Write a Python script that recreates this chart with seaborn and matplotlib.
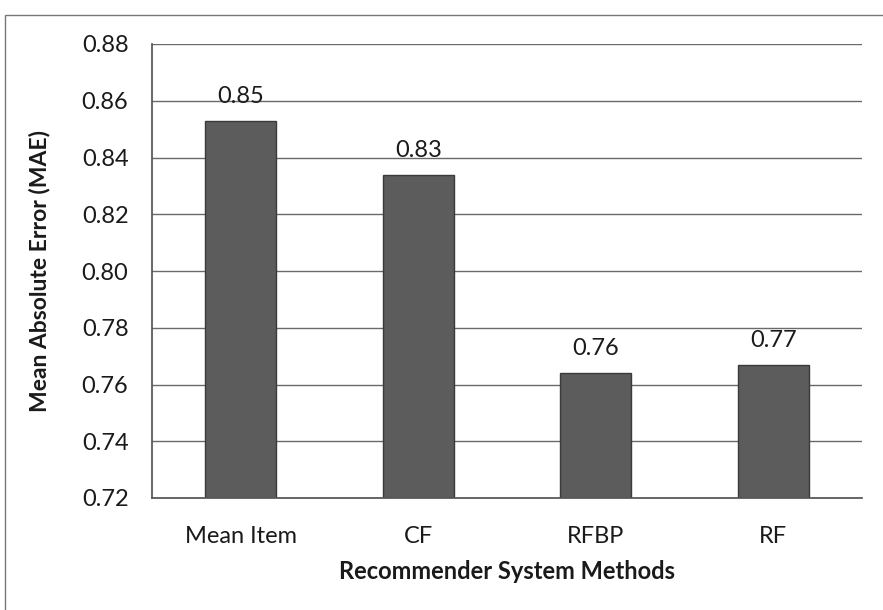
import matplotlib
matplotlib.use("Agg")
import matplotlib.pyplot as plt
import matplotlib.patches as mpatches
import seaborn as sns
import pandas as pd

methods = ["Mean Item", "CF", "RFBP", "RF"]
mae = [0.853, 0.834, 0.764, 0.767]
y_ticks = [0.72, 0.74, 0.76, 0.78, 0.80, 0.82, 0.84, 0.86, 0.88]

sns.set_theme(style="white")
plt.rcParams["font.family"] = ["Lato", "DejaVu Sans"]

df = pd.DataFrame({"method": methods, "mae": mae})

fig = plt.figure(figsize=(8.83, 6.10), dpi=100)
ax = fig.add_axes([152 / 883, 1 - 498 / 610, 710 / 883, (498 - 44) / 610])

sns.barplot(data=df, x="method", y="mae", color="#5c5c5c", width=0.4,
            edgecolor="#3a3a3a", linewidth=1.0, saturation=1, ax=ax)

ax.set_ylim(0.72, 0.88)
ax.set_yticks(y_ticks)
ax.set_yticklabels([f"{t:.2f}" for t in y_ticks])
ax.yaxis.grid(True, color="#6a6a6a", linewidth=1.0)
ax.set_axisbelow(True)
for side in ["top", "right"]:
    ax.spines[side].set_visible(False)
ax.spines["left"].set_color("#555555")
ax.spines["bottom"].set_color("#555555")
ax.tick_params(axis="both", length=0, labelsize=17, colors="#1a1a1a")
ax.tick_params(axis="y", pad=17)
ax.tick_params(axis="x", pad=20)

for container in ax.containers:
    ax.bar_label(container, labels=[f"{v:.2f}" for v in container.datavalues],
                 padding=10, fontsize=17, color="#1a1a1a")

ax.set_xlabel("Recommender System Methods", fontsize=17, fontweight="bold",
              color="#1a1a1a")
ax.set_ylabel("Mean Absolute Error (MAE)", fontsize=16.5, fontweight="bold",
              color="#1a1a1a")
ax.xaxis.set_label_coords(0.5, -0.136)
ax.yaxis.set_label_coords(-0.143, 0.5)

# chart area frame
frame = mpatches.Rectangle((5 / 883, -0.1), 1.2, 1 - 15 / 610 + 0.1,
                           transform=fig.transFigure, fill=False,
                           edgecolor="#777777", linewidth=1.0)
fig.patches.append(frame)

fig.savefig("out.png", dpi=100)
